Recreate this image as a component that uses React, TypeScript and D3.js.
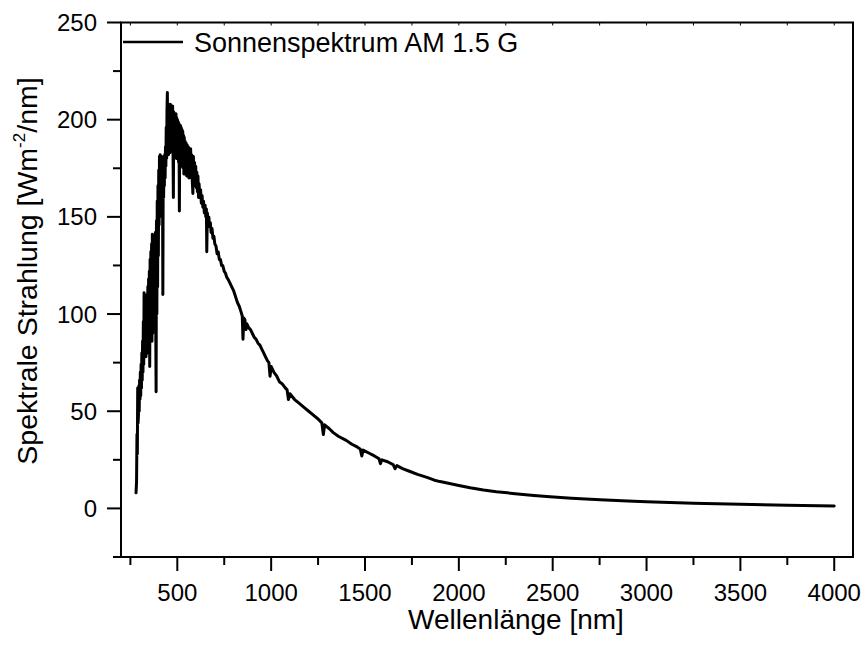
import React from "react";
import * as d3 from "d3";

// ---- Data ----
const xTickValues = [500, 1000, 1500, 2000, 2500, 3000, 3500, 4000];
const yTickValues = [0, 50, 100, 150, 200, 250];
const legendLabel = "Sonnenspektrum AM 1.5 G";
const xTitle = "Wellenlänge [nm]";

// UV part: dense, spiky
const uvSpectrum: [number, number][] = [
  [280, 8], [283, 14], [285, 38], [287, 28], [289, 62], [291, 44], [293, 48], [295, 63],
  [297, 50], [299, 66], [301, 56], [303, 70], [305, 58], [307, 74], [309, 62], [311, 80],
  [313, 66], [315, 86], [317, 70], [319, 96], [321, 74], [323, 111], [325, 78], [327, 100],
  [329, 80], [331, 98], [333, 78], [335, 106], [337, 82], [339, 110], [341, 80], [343, 114],
  [345, 84], [347, 118], [349, 86], [351, 122], [353, 73], [355, 128], [357, 86], [359, 132],
  [361, 88], [363, 136], [365, 86], [367, 141], [369, 90], [371, 126], [373, 94], [375, 134],
  [377, 96], [379, 138], [381, 92], [383, 142], [385, 96], [387, 60], [389, 148], [391, 100],
  [393, 158], [395, 114], [397, 166], [399, 130], [401, 174], [403, 146], [405, 181], [407, 150],
  [409, 182], [411, 154], [413, 181], [415, 158], [417, 181], [419, 150], [421, 180], [423, 110],
  [425, 178], [427, 160], [429, 181], [431, 166], [433, 182], [435, 170], [437, 186], [439, 176]
];

// visible part: peak and dense band
const visSpectrum: [number, number][] = [
  [441, 196], [443, 180], [445, 205], [447, 214], [449, 188], [451, 208], [453, 182], [455, 207],
  [457, 186], [459, 206], [461, 183], [463, 208], [465, 188], [467, 206], [469, 184], [471, 205],
  [473, 190], [475, 207], [477, 186], [479, 160], [481, 204], [483, 184], [485, 203], [487, 182],
  [489, 202], [491, 186], [493, 203], [495, 180], [497, 201], [499, 184], [501, 200], [503, 182],
  [505, 199], [507, 178], [509, 198], [511, 153], [513, 197], [515, 180], [517, 197], [519, 176],
  [521, 196], [523, 178], [525, 195], [527, 176], [529, 194], [531, 175], [533, 192], [535, 172],
  [537, 191], [539, 174], [541, 189], [544, 172], [547, 188], [550, 171], [553, 187], [556, 172],
  [559, 186], [562, 170], [565, 185], [568, 172], [571, 185], [574, 170], [577, 182], [580, 168],
  [583, 162], [586, 181], [589, 168], [592, 178], [595, 166], [598, 176], [601, 165], [604, 173],
  [607, 163], [610, 171], [613, 160], [616, 167], [620, 160], [624, 164], [628, 157], [632, 161],
  [636, 155], [640, 158], [644, 152], [648, 156], [652, 150], [655, 154], [657, 132], [660, 152],
  [664, 147], [668, 150], [672, 145], [676, 147], [680, 142], [685, 144], [690, 139], [695, 140],
  [700, 136], [706, 135], [712, 131], [718, 132], [724, 128], [730, 128], [736, 125], [742, 125],
  [750, 122], [757, 121], [763, 119]
];

// near infrared / infrared part: smooth with small dips
const irSpectrum: [number, number][] = [
  [770, 118], [780, 116], [790, 114], [800, 112], [810, 109], [820, 106], [830, 104],
  [840, 101], [846, 99], [850, 87], [854, 98], [860, 97], [866, 92], [870, 95],
  [880, 93], [890, 92], [900, 90], [910, 88], [920, 87], [930, 85], [940, 84],
  [950, 82], [960, 80], [970, 78], [980, 76], [988, 75], [994, 68], [1000, 73],
  [1015, 70], [1030, 68], [1045, 65], [1060, 64], [1075, 62], [1085, 61], [1092, 56],
  [1100, 59], [1125, 56], [1150, 54], [1175, 52], [1200, 50], [1225, 48], [1250, 46],
  [1270, 44], [1278, 38], [1285, 43], [1310, 41], [1331, 39], [1360, 37], [1400, 35],
  [1430, 33], [1460, 31.5], [1475, 30.5], [1483, 27], [1490, 30], [1520, 28.5], [1550, 27],
  [1575, 25.5], [1582, 23], [1590, 25], [1620, 24], [1650, 22.5], [1660, 20.5], [1670, 22],
  [1700, 20.5], [1740, 19], [1780, 17.5], [1830, 16], [1870, 14.5], [1900, 13.8], [1950, 12.8],
  [2000, 11.8], [2060, 10.6], [2131, 9.5], [2200, 8.6], [2300, 7.6], [2400, 6.7],
  [2486, 6.0], [2600, 5.2], [2753, 4.4], [2900, 3.8], [3000, 3.4], [3250, 2.7],
  [3500, 2.1], [3750, 1.6], [4000, 1.2]
];

const spectrum = [...uvSpectrum, ...visSpectrum, ...irSpectrum];

// ---- Layout ----
const W = 864;
const H = 646;
const left = 121;
const right = 853;
const top = 22.5;
const bottom = 557;
const FONT = "'Liberation Sans', Arial, Helvetica, sans-serif";

export default function App() {
  const x = d3.scaleLinear().domain([200, 4100]).range([left, right]);
  const y = d3.scaleLinear().domain([-25, 250]).range([bottom, top]);

  const line = d3
    .line<[number, number]>()
    .x((d) => x(d[0]))
    .y((d) => y(d[1]));

  const xMinor = d3.range(250, 4100, 500);
  const yMinor = d3.range(-25, 250, 50);

  return (
    <svg
      width={W}
      height={H}
      viewBox={`0 0 ${W} ${H}`}
      style={{ position: "absolute", left: 0, top: 0, background: "#fff" }}
    >
      <rect x={0} y={0} width={W} height={H} fill="#fff" />

      {/* data */}
      <path
        d={line(spectrum) || ""}
        fill="none"
        stroke="#000"
        strokeWidth={3}
        strokeLinejoin="round"
        strokeLinecap="round"
      />

      {/* frame */}
      <rect
        x={left}
        y={top}
        width={right - left}
        height={bottom - top}
        fill="none"
        stroke="#000"
        strokeWidth={2}
      />

      {/* x ticks */}
      {xTickValues.map((v) => (
        <g key={"xt" + v}>
          <line x1={x(v)} x2={x(v)} y1={bottom} y2={bottom + 14} stroke="#000" strokeWidth={2} />
          <line x1={x(v)} x2={x(v)} y1={top} y2={top + 3} stroke="#000" strokeWidth={1} />
          <text
            x={x(v)}
            y={601}
            textAnchor="middle"
            fontFamily={FONT}
            fontSize={24}
            fill="#000"
          >
            {v}
          </text>
        </g>
      ))}
      {xMinor.map((v) => (
        <g key={"xm" + v}>
          <line x1={x(v)} x2={x(v)} y1={bottom} y2={bottom + 8} stroke="#000" strokeWidth={2} />
          <line x1={x(v)} x2={x(v)} y1={top} y2={top + 3} stroke="#000" strokeWidth={1} />
        </g>
      ))}

      {/* y ticks */}
      {yTickValues.map((v) => (
        <g key={"yt" + v}>
          <line x1={left - 14} x2={left} y1={y(v)} y2={y(v)} stroke="#000" strokeWidth={2} />
          <text
            x={97}
            y={y(v) + 8.6}
            textAnchor="end"
            fontFamily={FONT}
            fontSize={24}
            fill="#000"
          >
            {v}
          </text>
        </g>
      ))}
      {yMinor.map((v) => (
        <line key={"ym" + v} x1={left - 8} x2={left} y1={y(v)} y2={y(v)} stroke="#000" strokeWidth={2} />
      ))}

      {/* axis titles */}
      <text
        x={516}
        y={629}
        textAnchor="middle"
        fontFamily={FONT}
        fontSize={28}
        fill="#000"
      >
        {xTitle}
      </text>
      <text
        transform="translate(37,271) rotate(-90)"
        textAnchor="middle"
        fontFamily={FONT}
        fontSize={28.5}
        fill="#000"
      >
        Spektrale Strahlung [Wm
        <tspan fontSize={17} dy={-12}>-2</tspan>
        <tspan dy={12}>/nm]</tspan>
      </text>

      {/* legend */}
      <line x1={left + 2} x2={183} y1={42} y2={42} stroke="#000" strokeWidth={2.4} />
      <text x={194} y={51.5} fontFamily={FONT} fontSize={27} fill="#000">
        {legendLabel}
      </text>
    </svg>
  );
}
